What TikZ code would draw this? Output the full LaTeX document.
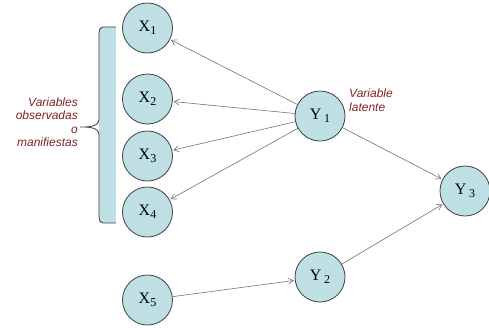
\documentclass[tikz,border=0pt]{standalone}
\usepackage{fontspec}
\setmainfont{Liberation Serif}
\newfontfamily\notefont{Liberation Sans}
\usepackage{xcolor}
\usepackage{tikz}
\usetikzlibrary{positioning,calc,arrows.meta}
\definecolor{NodeBlue}{RGB}{190,224,228}
\definecolor{NoteRed}{RGB}{130,35,35}
\newcommand{\sub}[1]{\raisebox{-0.45ex}{\fontsize{12}{12}\selectfont #1}}
\tikzset{
    varnode/.style={circle, draw=black!75, fill=NodeBlue, line width=0.8pt, minimum size=50pt, inner sep=0pt, font=\fontsize{16}{16}\selectfont},
    link/.style={draw=black!55, line width=0.6pt, -{Straight Barb[length=5pt,width=6pt]}, shorten >=1pt},
    note/.style={text=NoteRed, font=\notefont\itshape\fontsize{12}{13.5}\selectfont, inner sep=0pt}
}
\begin{document}
\begin{tikzpicture}[x=1pt, y=-1pt]
        \useasboundingbox (0,0) rectangle (489,327);

        % --- CORCHETE ---
        \fill[NodeBlue] (99,27) rectangle (116,223);
        \draw[black!75, line width=0.8pt] (116,27) -- (103,27) to[out=180,in=90] (99,33) -- (99,119)
            to[out=-90,in=0] (80,127) to[out=0,in=90] (99,135) -- (99,217)
            to[out=-90,in=180] (103,223) -- (116,223);

        % --- VARIABLES OBSERVADAS ---
        \node[varnode] (X1) at (147.5,28) {X\sub{1}};
        \node[varnode] (X2) at (147.5,99) {X\sub{2}};
        \node[varnode] (X3) at (147.5,156) {X\sub{3}};
        \node[varnode] (X4) at (147.5,212) {X\sub{4}};
        \node[varnode] (X5) at (147.5,300) {X\sub{5}};

        % --- VARIABLES LATENTES ---
        \node[varnode] (Y1) at (320,116) {Y\,\sub{1}};
        \node[varnode] (Y2) at (320,277) {Y\,\sub{2}};
        \node[varnode] (Y3) at (465,191) {Y\,\sub{3}};

        % --- TEXTOS ---
        \node[note, align=right, anchor=east] (obs) at (78,122)
            {Variables\\ observadas\\ o\\ manifiestas};
        \node[note, align=left, anchor=west] (lat) at (349,100)
            {Variable\\ latente};

        % --- FLECHAS ---
        \foreach \x in {X1, X2, X3, X4} {
            \draw[link] (Y1) -- (\x);
        }
        \draw[link] (Y1) -- (Y3);
        \draw[link] (X5) -- (Y2);
        \draw[link] (Y2) -- (Y3);

    \end{tikzpicture}
\end{document}
